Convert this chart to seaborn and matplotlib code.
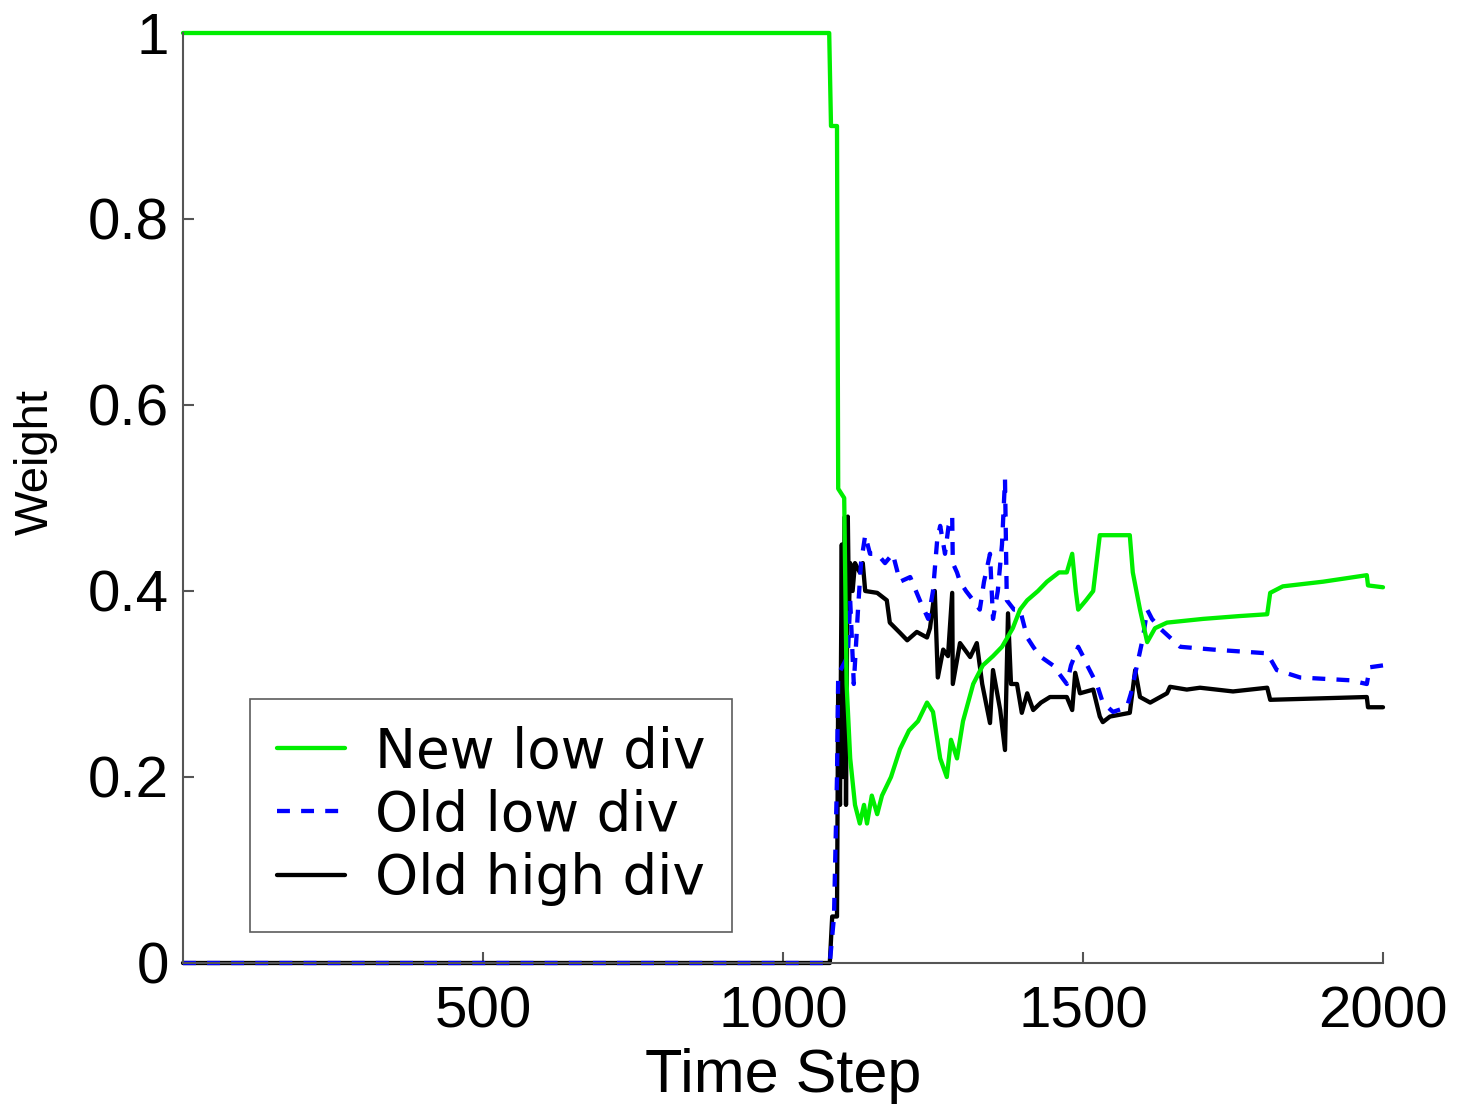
import numpy as np
import pandas as pd
import matplotlib
matplotlib.use("Agg")
import matplotlib.pyplot as plt
import seaborn as sns

# ---- data ----
green_t = [0, 1077, 1080, 1090, 1092, 1102, 1106, 1112, 1120, 1128, 1135, 1140, 1148, 1157, 1165,
           1180, 1195, 1210, 1225, 1240, 1250, 1262, 1273, 1280, 1290, 1300, 1317, 1333, 1350,
           1365, 1383, 1395, 1407, 1425, 1440, 1460, 1473, 1482, 1488, 1492, 1505, 1517, 1528,
           1550, 1578, 1583, 1595, 1607, 1620, 1640, 1700, 1760, 1807, 1812, 1833, 1900, 1973,
           1975, 2000]
green_w = [1.0, 1.0, 0.90, 0.90, 0.51, 0.50, 0.30, 0.22, 0.17, 0.15, 0.17, 0.15, 0.18, 0.16, 0.18,
           0.20, 0.23, 0.25, 0.26, 0.28, 0.27, 0.22, 0.20, 0.24, 0.22, 0.26, 0.30, 0.32, 0.33,
           0.34, 0.36, 0.38, 0.39, 0.40, 0.41, 0.42, 0.42, 0.44, 0.40, 0.38, 0.39, 0.40, 0.46,
           0.46, 0.46, 0.42, 0.38, 0.345, 0.36, 0.366, 0.37, 0.373, 0.375, 0.398, 0.405, 0.41, 0.417,
           0.406, 0.404]

blue_t = [0, 1078, 1085, 1090, 1092, 1100, 1108, 1112, 1118, 1125, 1130, 1137, 1145, 1157, 1170,
          1183, 1195, 1212, 1228, 1242, 1250, 1257, 1262, 1270, 1276, 1282, 1283, 1290, 1295,
          1305, 1317, 1328, 1335, 1345, 1350, 1358, 1365, 1370, 1373, 1385, 1395, 1407, 1417,
          1428, 1450, 1473, 1480, 1492, 1500, 1507, 1523, 1533, 1550, 1573, 1580, 1590, 1600,
          1607, 1615, 1628, 1662, 1717, 1807, 1823, 1862, 1945, 1973, 1978, 2000]
blue_w = [0.0, 0.0, 0.05, 0.20, 0.31, 0.32, 0.33, 0.39, 0.30, 0.38, 0.43, 0.46, 0.44, 0.44, 0.43,
          0.44, 0.41, 0.415, 0.39, 0.37, 0.40, 0.455, 0.47, 0.44, 0.47, 0.48, 0.43, 0.42, 0.41,
          0.40, 0.39, 0.38, 0.41, 0.44, 0.37, 0.40, 0.45, 0.52, 0.39, 0.38, 0.38, 0.35, 0.34,
          0.33, 0.32, 0.30, 0.32, 0.34, 0.33, 0.32, 0.30, 0.28, 0.27, 0.275, 0.29, 0.32, 0.35,
          0.38, 0.37, 0.36, 0.34, 0.337, 0.333, 0.315, 0.307, 0.304, 0.30, 0.318, 0.32]

black_t = [0, 1078, 1082, 1090, 1092, 1095, 1098, 1100, 1103, 1105, 1108, 1110, 1112, 1116, 1120,
           1128, 1133, 1137, 1157, 1173, 1178, 1195, 1207, 1223, 1240, 1245, 1253, 1258, 1267,
           1275, 1282, 1283, 1295, 1312, 1323, 1332, 1345, 1350, 1362, 1370, 1375, 1380, 1390,
           1398, 1407, 1417, 1430, 1445, 1473, 1482, 1487, 1495, 1517, 1528, 1533, 1545, 1578,
           1587, 1595, 1612, 1640, 1645, 1673, 1695, 1750, 1807, 1812, 1973, 1975, 2000]
black_w = [0.0, 0.0, 0.05, 0.05, 0.30, 0.17, 0.45, 0.20, 0.48, 0.17, 0.48, 0.38, 0.43, 0.40, 0.43,
           0.42, 0.43, 0.40, 0.398, 0.39, 0.366, 0.355, 0.347, 0.356, 0.35, 0.36, 0.40, 0.307, 0.337,
           0.33, 0.398, 0.30, 0.344, 0.329, 0.344, 0.30, 0.258, 0.315, 0.272, 0.229, 0.376, 0.30, 0.30,
           0.269, 0.29, 0.272, 0.28, 0.286, 0.286, 0.272, 0.312, 0.29, 0.294, 0.265, 0.259, 0.265, 0.269,
           0.315, 0.286, 0.28, 0.29, 0.297, 0.294, 0.296, 0.292, 0.296, 0.283, 0.286, 0.275, 0.275]

labels = ["New low div", "Old low div", "Old high div"]
xticks = [500, 1000, 1500, 2000]
yticks = [0, 0.2, 0.4, 0.6, 0.8, 1]
ytick_labels = ["0", "0.2", "0.4", "0.6", "0.8", "1"]

# ---- plot ----
sns.set_style("white")
plt.rcParams['font.family'] = ['Liberation Sans', 'DejaVu Sans']
plt.rcParams['text.color'] = 'black'
plt.rcParams['axes.labelcolor'] = 'black'

fig = plt.figure(figsize=(14.58, 11.04), dpi=100)
ax = fig.add_axes([183 / 1458, 1 - 963 / 1104, 1200 / 1458, 930 / 1104])

LW = 3.1
sns.lineplot(x=black_t, y=black_w, ax=ax, color="black", lw=LW, sort=False,
             estimator=None, label=labels[2], clip_on=False)
sns.lineplot(x=blue_t, y=blue_w, ax=ax, color="#0000ff", lw=LW, sort=False,
             estimator=None, label=labels[1], clip_on=False)
ax.lines[-1].set_dashes([3.0, 2.6])
sns.lineplot(x=green_t, y=green_w, ax=ax, color="#00ee00", lw=LW, sort=False,
             estimator=None, label=labels[0], clip_on=False)

ax.set_xlim(0, 2000)
ax.set_ylim(0, 1)
ax.set_xticks(xticks)
ax.set_yticks(yticks)
ax.set_yticklabels(ytick_labels)
ax.tick_params(axis='both', direction='in', length=8, width=1.5, color='#555555',
               labelcolor='black', labelsize=42, bottom=True, left=True)
ax.tick_params(axis='x', pad=16)
ax.tick_params(axis='y', pad=10)
for side in ['top', 'right']:
    ax.spines[side].set_visible(False)
for side in ['left', 'bottom']:
    ax.spines[side].set_color('#555555')
    ax.spines[side].set_linewidth(1.5)

ax.set_xlabel("Time Step", fontsize=44, labelpad=6)
ax.set_ylabel("Weight", fontsize=34, labelpad=14)
ax.yaxis.set_label_coords(-0.104, 0.539)

handles, labs = ax.get_legend_handles_labels()
order = [labs.index(l) for l in labels]
leg = ax.legend([handles[i] for i in order], [labs[i] for i in order],
                loc='lower left', bbox_to_anchor=(0.056, 0.033),
                prop={'family': 'DejaVu Sans', 'size': 39.5},
                frameon=True, fancybox=False, edgecolor='#333333',
                handlelength=1.25, handletextpad=0.55, borderpad=0.48,
                labelspacing=0.17, borderaxespad=0)
leg.get_frame().set_linewidth(1.2)

fig.savefig("out.png", dpi=100, facecolor='white')
